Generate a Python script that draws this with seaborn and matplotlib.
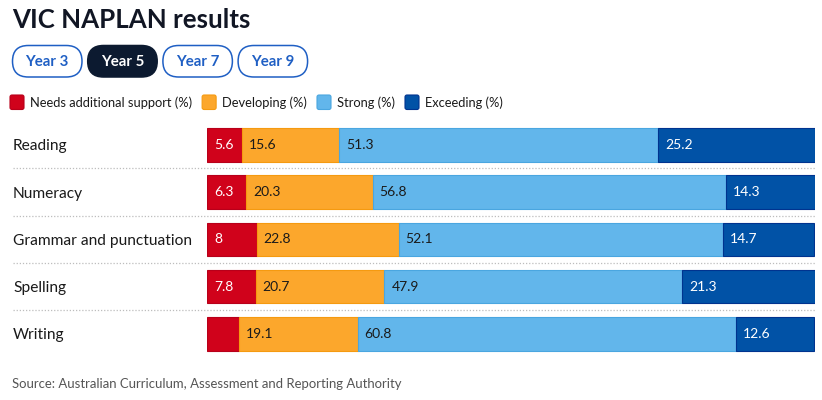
import matplotlib
matplotlib.use("Agg")
import matplotlib.pyplot as plt
import matplotlib.transforms as mtransforms
from matplotlib.patches import FancyBboxPatch
import seaborn as sns
import numpy as np
import pandas as pd

# ---------------- data ----------------
categories = ["Reading", "Numeracy", "Grammar and punctuation", "Spelling", "Writing"]
series_names = ["Needs additional support (%)", "Developing (%)", "Strong (%)", "Exceeding (%)"]
needs_support = [5.6, 6.3, 8.0, 7.8, 5.1]
developing = [15.6, 20.3, 22.8, 20.7, 19.1]
strong = [51.3, 56.8, 52.1, 47.9, 60.8]
exceeding = [25.2, 14.3, 14.7, 21.3, 12.6]
year_tabs = ["Year 3", "Year 5", "Year 7", "Year 9"]
selected_tab = "Year 5"
title = "VIC NAPLAN results"
source = "Source: Australian Curriculum, Assessment and Reporting Authority"

# ---------------- style ----------------
sns.set_theme(style="white")
plt.rcParams["font.family"] = ["Lato", "DejaVu Sans"]

W, H = 822, 400
fill_colors = ["#d0021b", "#fca72c", "#62b6eb", "#0152a6"]
edge_colors = ["#b8001a", "#f59a10", "#4aa6e0", "#00338f"]
label_colors = ["white", "#1a1a1a", "#1a1a1a", "white"]
dark = "#1a1a1a"
btn_blue = "#1f5fc4"
btn_navy = "#0c1a30"

fig = plt.figure(figsize=(W / 100, H / 100), dpi=100)
fig.patch.set_facecolor("white")

# overlay axes in pixel coordinates (origin top-left)
oax = fig.add_axes([0, 0, 1, 1], zorder=0)
oax.set_xlim(0, W)
oax.set_ylim(H, 0)
oax.axis("off")

# main chart axes
ax_left, ax_right, ax_top, ax_bottom = 207, 815, 121.2, 357.6
ax = fig.add_axes([ax_left / W, 1 - ax_bottom / H, (ax_right - ax_left) / W, (ax_bottom - ax_top) / H], zorder=1)
ax.patch.set_alpha(0)

series = [needs_support, developing, strong, exceeding]
lefts = np.zeros(len(categories))
for vals, fc, ec in zip(series, fill_colors, edge_colors):
    d = pd.DataFrame({"category": categories, "value": vals})
    sns.barplot(data=d, x="value", y="category", order=categories, orient="h",
                color=fc, saturation=1, edgecolor=ec, linewidth=0.8,
                width=0.71, left=lefts.copy(), errorbar=None, ax=ax)
    lefts = lefts + np.array(vals)

totals = lefts
ax.set_xlim(0, totals.max())
ax.set_ylim(len(categories) - 0.5, -0.5)
ax.set_xlabel("")
ax.set_ylabel("")
ax.set_xticks([])
for s in ax.spines.values():
    s.set_visible(False)

# value labels inside bars (left aligned)
min_label_value = 5.5
lefts = np.zeros(len(categories))
for vals, lc in zip(series, label_colors):
    for i, v in enumerate(vals):
        if v >= min_label_value:
            txt = f"{v:g}"
            ax.annotate(txt, xy=(lefts[i], i), xytext=(5, 0), textcoords="offset points",
                        ha="left", va="center", fontsize=10, color=lc)
    lefts = lefts + np.array(vals)

# category labels left-aligned at x=13
ax.tick_params(axis="y", length=0, pad=(ax_left - 13) * 0.72, labelsize=11.2, labelcolor=dark)
for lab in ax.get_yticklabels():
    lab.set_ha("left")

# dotted separators
trans = mtransforms.blended_transform_factory(ax.transAxes, ax.transData)
seps = np.arange(len(categories) - 1) + 0.5
ax.hlines(seps, (13 - ax_left) / (ax_right - ax_left), 1.0, transform=trans,
          colors="#bdbdbd", linestyles=(0, (1, 1.5)), linewidth=0.9, clip_on=False)

# title
oax.text(12, 27.5, title, fontsize=18.6, fontweight="bold", color="#111624", ha="left", va="baseline")

# tab buttons
bx, by, bw, bh, gap = 12.5, 45.5, 69.5, 31.5, 5.7
for i, name in enumerate(year_tabs):
    x0 = bx + i * (bw + gap)
    sel = name == selected_tab
    oax.add_patch(FancyBboxPatch((x0, by), bw, bh, boxstyle=f"round,pad=0,rounding_size={bh / 2}",
                                 fc=btn_navy if sel else "white",
                                 ec=btn_navy if sel else btn_blue, lw=1.1))
    oax.text(x0 + bw / 2, by + bh / 2 + 0.5, name, ha="center", va="center", fontsize=10.8,
             fontweight="bold", color="white" if sel else btn_blue)

# legend
fig.canvas.draw()
renderer = fig.canvas.get_renderer()
lx = 10
for name, fc, ec in zip(series_names, fill_colors, edge_colors):
    oax.add_patch(FancyBboxPatch((lx, 95), 14, 14.5, boxstyle="round,pad=0,rounding_size=2",
                                 fc=fc, ec=ec, lw=0.8))
    t = oax.text(lx + 20, 103, name, ha="left", va="center", fontsize=9.3, color=dark)
    lx = lx + 20 + t.get_window_extent(renderer=renderer).width + 10

# source
oax.text(12, 384, source, ha="left", va="center", fontsize=9.45, color="#555555")

fig.savefig("out.png", dpi=100, facecolor="white")
